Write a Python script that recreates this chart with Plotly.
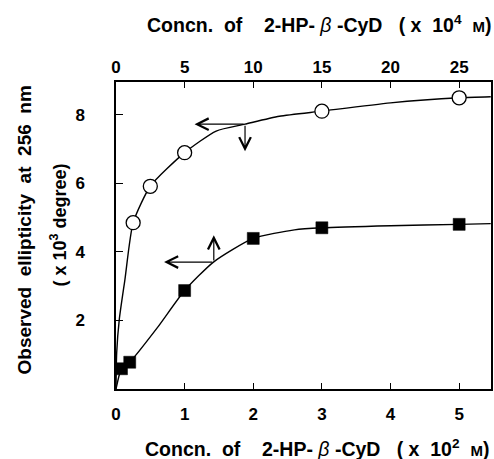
import plotly.graph_objects as go

# ---- data ----
circ_x_top = [1.25, 2.5, 5, 15, 25]                 # x 10^4 M (top axis)
circ_y = [4.85, 5.91, 6.89, 8.10, 8.49]
sq_x = [0.08, 0.2, 1, 2, 3, 5]                      # x 10^2 M (bottom axis)
sq_y = [0.59, 0.78, 2.87, 4.39, 4.70, 4.80]

circ_curve_x = [0, 0.05, 0.24, 0.65, 1.25, 2.5, 5, 7.3, 9.4, 11.9, 15, 20, 25, 27.3]
circ_curve_y = [0, 1.06, 2.03, 3.19, 4.85, 5.91, 6.89, 7.52, 7.72, 7.95, 8.10, 8.34, 8.49, 8.52]
sq_curve_x = [0, 0.08, 0.2, 0.6, 1, 1.42, 2, 2.6, 3, 4, 5, 5.46]
sq_curve_y = [0, 0.59, 0.78, 1.78, 2.87, 3.70, 4.39, 4.64, 4.70, 4.76, 4.80, 4.82]

bottom_ticks = [0, 1, 2, 3, 4, 5]
top_ticks = [0, 5, 10, 15, 20, 25]
y_ticks = [2, 4, 6, 8]

# arrow annotations (junction on curve, left tip x, vertical tip y) in bottom-axis units
circ_arrow = dict(jx=1.88, jy=7.72, left_x=1.145, vert_y=6.93)
sq_arrow = dict(jx=1.425, jy=3.70, left_x=0.70, vert_y=4.48)

FONT = "Liberation Sans, Arial, sans-serif"
NB = "\u00a0"

fig = go.Figure()
fig.add_trace(go.Scatter(x=circ_curve_x, y=circ_curve_y, xaxis="x2", yaxis="y",
                         mode="lines", line=dict(color="black", width=1.4, shape="spline", smoothing=0.6),
                         hoverinfo="skip", showlegend=False))
fig.add_trace(go.Scatter(x=sq_curve_x, y=sq_curve_y, mode="lines",
                         line=dict(color="black", width=1.4, shape="spline", smoothing=0.6),
                         hoverinfo="skip", showlegend=False))
fig.add_trace(go.Scatter(x=circ_x_top, y=circ_y, xaxis="x2", yaxis="y", mode="markers",
                         marker=dict(symbol="circle", size=14, color="white",
                                     line=dict(color="black", width=1.3)),
                         showlegend=False))
fig.add_trace(go.Scatter(x=sq_x, y=sq_y, mode="markers",
                         marker=dict(symbol="square", size=12, color="black",
                                     line=dict(color="black", width=0.5)),
                         showlegend=False))

ann = []
for a in (circ_arrow, sq_arrow):
    ann.append(dict(x=a["left_x"], y=a["jy"], ax=a["jx"], ay=a["jy"], xref="x", yref="y",
                    axref="x", ayref="y", showarrow=True, arrowhead=5, arrowsize=1.9,
                    arrowwidth=1.2, arrowcolor="black", text=""))
    ann.append(dict(x=a["jx"], y=a["vert_y"], ax=a["jx"], ay=a["jy"], xref="x", yref="y",
                    axref="x", ayref="y", showarrow=True, arrowhead=5, arrowsize=1.9,
                    arrowwidth=1.2, arrowcolor="black", text=""))

def title_text(exp):
    return ("<b>Concn." + NB * 2 + "of" + NB * 4 + "2-HP-" + NB + "</b><i>β</i><b>" + NB + "-CyD" +
            NB * 3 + "(" + NB + "x" + NB * 2 + "10<sup>" + exp + "</sup>" + NB * 2 +
            "<span style='font-size:15px'>M</span>)</b>")

ann.append(dict(text=title_text("4"), xref="paper", yref="paper", x=0.54, y=1, yshift=58,
                showarrow=False, xanchor="center", yanchor="middle",
                font=dict(family=FONT, size=19.5, color="black")))
ann.append(dict(text=title_text("2"), xref="paper", yref="paper", x=0.535, y=0, yshift=-59,
                showarrow=False, xanchor="center", yanchor="middle",
                font=dict(family=FONT, size=19.5, color="black")))
ann.append(dict(text="<b>Observed" + NB * 2 + "ellipticity" + NB * 2 + "at" + NB * 2 + "256" + NB * 2 + "nm</b>",
                xref="paper", yref="paper", x=0, xshift=-92, y=0.5, yshift=5,
                textangle=-90, showarrow=False, xanchor="center", yanchor="middle",
                font=dict(family=FONT, size=19, color="black")))
ann.append(dict(text="<b>(" + NB + "x" + NB + "10<sup>3</sup>" + NB + "degree)</b>",
                xref="paper", yref="paper", x=0, xshift=-57, y=0.5, yshift=10,
                textangle=-90, showarrow=False, xanchor="center", yanchor="middle",
                font=dict(family=FONT, size=18, color="black")))

tickfont = dict(family=FONT, size=17, color="black", weight="bold")

fig.update_layout(
    width=494, height=459,
    margin=dict(l=116, r=1, t=82, b=70),
    paper_bgcolor="white", plot_bgcolor="white",
    annotations=ann,
    xaxis=dict(range=[0, 5.464], tickvals=bottom_ticks, ticks="inside", ticklen=6,
               tickwidth=1.2, tickcolor="black", showline=True, mirror=True,
               linecolor="black", linewidth=1.5, showgrid=False, zeroline=False,
               tickfont=tickfont, ticklabelstandoff=9),
    xaxis2=dict(range=[0, 27.32], tickvals=top_ticks, overlaying="x", side="top",
                anchor="y", ticks="inside", ticklen=6, tickwidth=1.2, tickcolor="black",
                showline=False, showgrid=False, zeroline=False, tickfont=tickfont,
                ticklabelstandoff=5),
    yaxis=dict(range=[0, 8.95], tickvals=y_ticks, ticks="inside", ticklen=7,
               tickwidth=1.2, tickcolor="black", showline=True, mirror=True,
               linecolor="black", linewidth=1.5, showgrid=False, zeroline=False,
               tickfont=tickfont, ticklabelstandoff=26),
)

fig.write_html("out.html")
